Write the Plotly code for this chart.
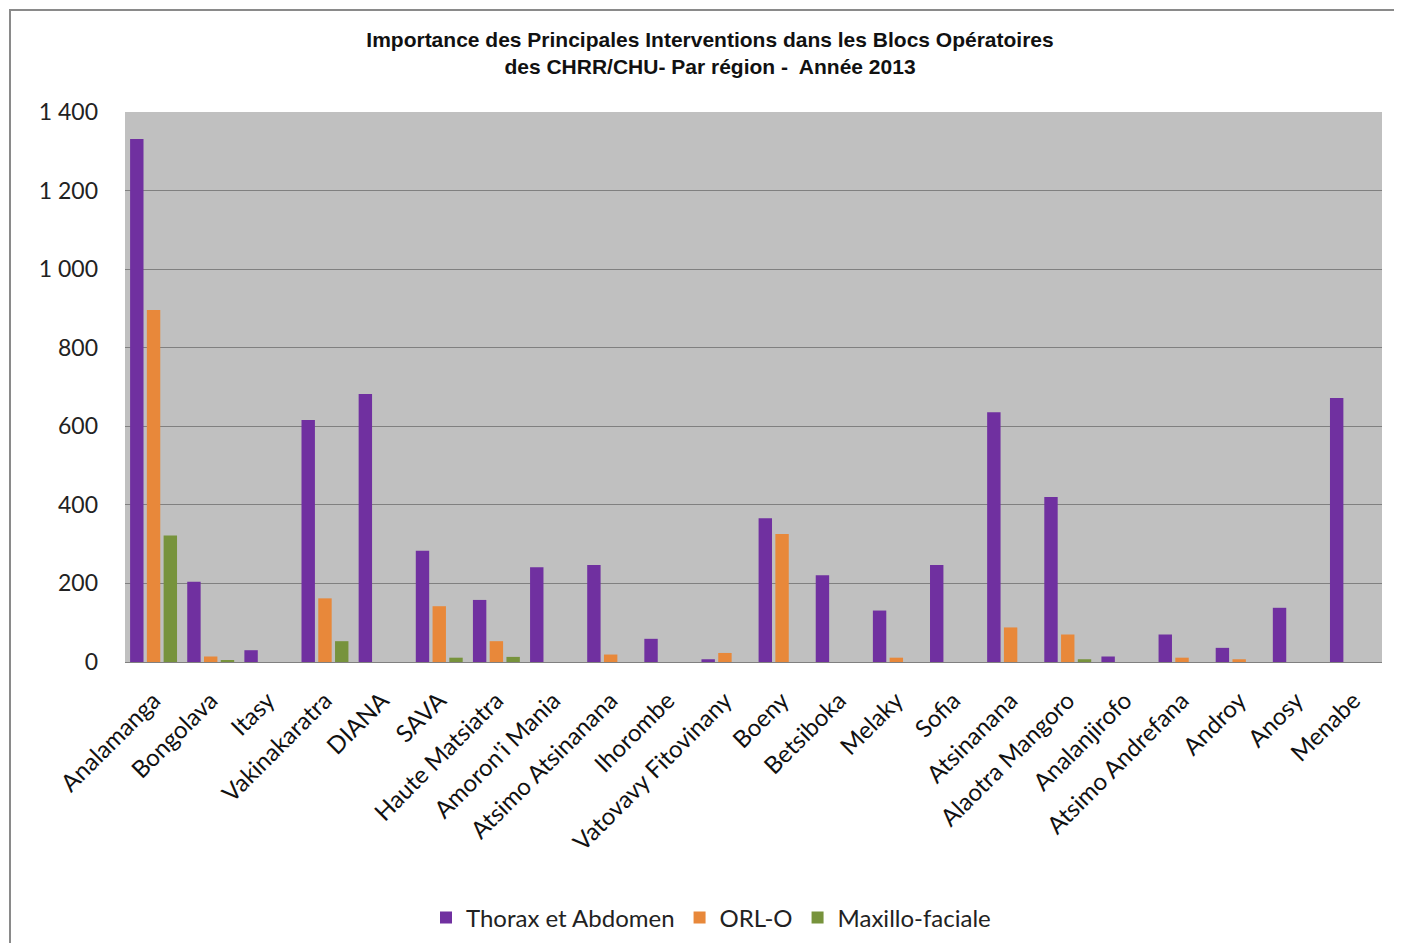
import plotly.graph_objects as go

regions = ["Analamanga", "Bongolava", "Itasy", "Vakinakaratra", "DIANA", "SAVA",
           "Haute Matsiatra", "Amoron'i Mania", "Atsimo Atsinanana", "Ihorombe",
           "Vatovavy Fitovinany", "Boeny", "Betsiboka", "Melaky", "Sofia",
           "Atsinanana", "Alaotra Mangoro", "Analanjirofo", "Atsimo Andrefana",
           "Androy", "Anosy", "Menabe"]

thorax = [1331, 204, 30, 616, 682, 283, 158, 241, 247, 59, 7, 366, 221, 131, 247,
          636, 420, 14, 70, 36, 138, 672]
orl = [896, 14, 0, 162, 0, 142, 53, 0, 19, 0, 23, 326, 0, 11, 0, 88, 70, 0, 11, 7, 0, 0]
maxillo = [322, 4, 0, 53, 0, 11, 13, 0, 0, 0, 0, 0, 0, 0, 0, 0, 7, 0, 0, 0, 0, 0]

series_names = ["Thorax et Abdomen", "ORL-O", "Maxillo-faciale"]
series_colors = ["#7030A0", "#E8883A", "#77933C"]

y_tickvals = [0, 200, 400, 600, 800, 1000, 1200, 1400]
y_ticktext = ["0", "200", "400", "600", "800", "1 000", "1 200", "1 400"]

title_text = ("<b>Importance des Principales Interventions dans les Blocs Opératoires<br>"
              "des CHRR/CHU- Par région -  Année 2013</b>")

# page has an 8px body margin; figure placed at (8, 8)
W, H = 1386, 935
L, R, T, B = 117, 12, 104, 281
PW = W - L - R   # 1257
PH = H - T - B   # 550

fig = go.Figure()
for name, vals, col in zip(series_names, [thorax, orl, maxillo], series_colors):
    fig.add_trace(go.Bar(x=regions, y=vals, name=name, marker_color=col,
                         marker_line_width=0))

fig.update_layout(
    width=W, height=H,
    margin=dict(l=L, r=R, t=T, b=B, autoexpand=False),
    paper_bgcolor="white",
    plot_bgcolor="#C0C0C0",
    barmode="group",
    bargap=0.12,
    bargroupgap=0.2,
    title=dict(text=title_text, x=(710 - 8) / W, xanchor="center", xref="container",
               y=1 - 39 / H, yanchor="top", yref="container",
               font=dict(family="Liberation Sans", size=21, color="#111111")),
    font=dict(family="Lato", color="#222222"),
    showlegend=True,
    legend=dict(orientation="h", x=(711 - 125) / PW, xanchor="center", xref="paper",
                y=-(918 - 662) / PH, yanchor="middle",
                font=dict(family="Lato", size=24, color="#222222"),
                itemwidth=30, tracegroupgap=0, traceorder="normal"),
    shapes=[dict(type="rect", xref="paper", yref="paper",
                 x0=-(L - 2) / PW, x1=(W + 20 - L) / PW,
                 y0=-(B + 20) / PH, y1=1 + (T - 2) / PH,
                 line=dict(color="#8a8a8a", width=2), fillcolor="rgba(0,0,0,0)",
                 layer="below")],
)

fig.update_xaxes(tickangle=-45, tickfont=dict(family="Lato", size=24, color="#111111"),
                 showline=True, linecolor="#808080", linewidth=1, ticks="",
                 showgrid=False, ticklabelstandoff=14, automargin=False)
fig.update_yaxes(range=[0, 1400], tickvals=y_tickvals, ticktext=y_ticktext,
                 tickfont=dict(family="Lato", size=23, color="#222222"),
                 showgrid=True, gridcolor="#808080", gridwidth=1,
                 zeroline=False, showline=False, ticks="", ticklabelstandoff=26,
                 automargin=False)

fig.write_html("out.html")
